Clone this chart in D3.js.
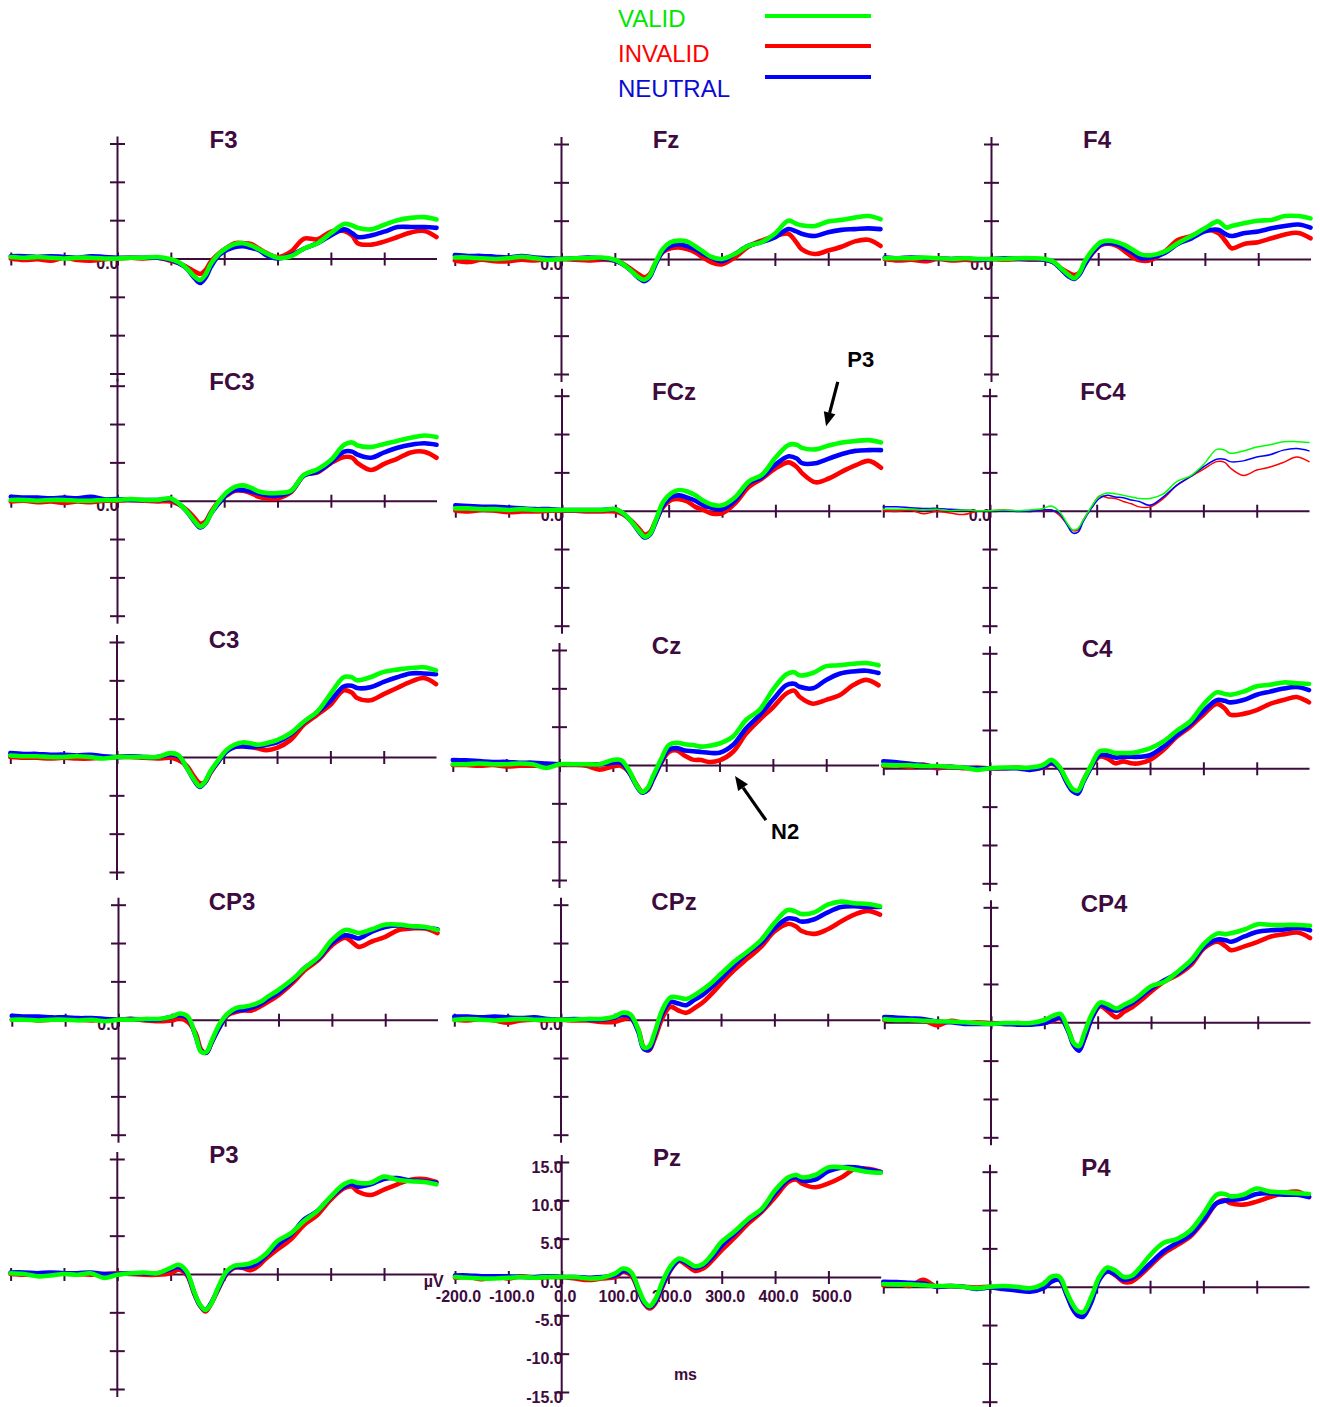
<!DOCTYPE html>
<html><head><meta charset="utf-8">
<script src="https://cdn.jsdelivr.net/npm/d3@7"></script>
<style>body{margin:0;background:#fff}svg{display:block}</style>
</head><body>
<svg id="chart" width="1320" height="1407"></svg>
<script>
// ---------- DATA ----------
const times = [-200,-175,-150,-125,-100,-75,-50,-25,0,25,50,75,100,115,130,145,155,165,175,190,205,220,235,250,265,280,300,325,350,375,400,425,440,450,475,500,525,550,575,598];
const channels = ["F3","Fz","F4","FC3","FCz","FC4","C3","Cz","C4","CP3","CPz","CP4","P3","Pz","P4"];
const conditions = ["VALID","INVALID","NEUTRAL"];
const xTickValues = [-200,-100,0,100,200,300,400,500];
const yTickValues = [-15,-10,-5,0,5,10,15];

const F3_VALID   = [0.2,0.1,0.2,0.1,0.0,0.1,0.1,0.0,0.0,0.1,0.1,0.2,-0.1,-0.5,-1.3,-2.4,-2.8,-2.1,-0.7,0.6,1.4,1.9,2.0,1.7,1.2,0.65,0.1,0.3,1.3,2.0,3.3,4.5,4.3,4.0,3.8,4.4,5.0,5.3,5.4,5.1];
const F3_NEUTRAL = [0.3,0.3,0.2,0.3,0.2,0.1,0.3,0.2,0.1,0.1,0.1,0.1,-0.2,-0.6,-1.3,-2.6,-3.2,-2.5,-1.1,0.4,1.1,1.5,1.6,1.4,1.1,0.4,0.0,0.4,1.3,2.0,3.0,3.8,3.3,2.8,3.0,3.5,4.1,4.1,4.1,4.0];
const F3_INVALID = [0.0,-0.2,-0.1,-0.3,0.1,-0.2,-0.3,-0.1,0.0,0.1,0.0,0.1,-0.3,-0.6,-1.1,-1.7,-2.0,-1.5,-0.4,0.65,1.4,2.0,2.0,1.9,1.3,0.7,0.2,0.9,2.6,2.5,3.5,3.6,3.0,2.0,1.8,2.2,2.8,3.4,3.6,2.8];

const Fz_VALID   = [0.2,0.2,0.1,0.0,0.1,0.3,0.1,-0.1,0.0,0.1,0.1,0.2,-0.1,-0.65,-1.5,-2.4,-2.7,-2.2,-0.65,1.3,2.2,2.4,2.3,1.7,1.0,0.3,0.0,0.65,1.7,2.2,3.3,5.0,4.6,4.4,4.3,4.9,5.1,5.4,5.6,5.2];
const Fz_NEUTRAL = [0.5,0.4,0.4,0.3,0.2,0.4,0.2,0.1,0.0,0.1,0.2,0.1,-0.2,-0.7,-1.5,-2.5,-2.9,-2.4,-0.9,1.0,1.7,1.9,1.7,1.3,0.7,0.2,-0.3,0.65,1.7,2.2,2.8,3.9,3.6,3.3,3.0,3.5,3.8,3.9,4.0,3.9];
const Fz_INVALID = [-0.2,-0.4,-0.1,-0.3,-0.3,-0.1,-0.2,0.0,0.0,-0.1,-0.2,-0.1,-0.2,-0.6,-1.3,-2.0,-2.4,-2.0,-0.7,0.9,1.4,1.5,1.3,0.9,0.2,-0.4,-0.7,0.2,1.6,2.4,3.0,3.3,2.2,1.3,0.65,1.1,1.6,2.3,2.5,1.7];

const F4_VALID   = [0.1,0.1,0.1,0.2,0.1,0.0,0.1,0.0,0.0,0.0,0.1,0.1,0.0,-0.3,-1.2,-2.1,-2.5,-1.8,-0.3,1.2,2.2,2.4,2.2,1.8,1.2,0.6,0.5,1.0,2.1,3.0,4.0,4.9,4.1,4.3,4.7,5.0,5.1,5.6,5.6,5.3];
const F4_NEUTRAL = [0.2,0.1,0.2,0.1,0.1,0.0,0.1,-0.1,0.0,0.1,0.0,0.0,-0.1,-0.4,-1.3,-2.3,-2.6,-2.0,-0.7,0.9,1.9,2.1,1.9,1.4,0.8,0.1,0.2,0.8,2.0,2.7,3.6,3.8,3.2,3.0,3.4,3.6,4.0,4.3,4.5,4.1];
const F4_INVALID = [0.0,-0.2,-0.1,-0.3,0.0,-0.2,-0.1,-0.2,0.0,-0.1,0.0,-0.1,-0.1,-0.4,-1.2,-1.8,-2.1,-1.8,-0.7,0.8,1.8,2.0,1.7,1.0,0.2,-0.2,-0.1,1.0,2.5,3.0,3.8,3.4,2.2,1.4,2.0,2.2,2.7,3.2,3.4,2.7];

const FC3_VALID   = [0.1,0.1,0.0,0.1,0.1,0.0,0.0,0.1,0.1,0.2,0.1,0.1,0.3,-0.35,-1.4,-2.7,-3.4,-3.0,-1.7,-0.1,1.1,1.8,2.0,1.7,1.2,1.0,1.0,1.3,3.4,4.1,5.3,7.3,7.6,7.2,7.0,7.4,7.8,8.2,8.5,8.3];
const FC3_NEUTRAL = [0.5,0.4,0.4,0.3,0.4,0.3,0.5,0.2,0.2,0.1,0.1,0.1,0.2,-0.4,-1.4,-2.8,-3.5,-3.0,-1.7,-0.35,0.8,1.4,1.4,1.2,0.95,0.7,0.65,1.2,3.3,3.8,5.0,6.4,6.4,6.0,5.6,6.3,6.9,7.3,7.5,7.3];
const FC3_INVALID = [-0.1,0.0,-0.2,-0.1,-0.3,-0.1,-0.2,0.0,0.0,0.1,0.0,-0.1,-0.1,-0.5,-1.2,-2.3,-3.0,-2.7,-1.5,-0.1,0.7,1.3,1.3,1.0,0.5,0.3,0.3,1.1,3.3,3.7,4.9,5.7,5.6,4.9,4.0,4.8,5.5,6.3,6.4,5.6];

const FCz_VALID   = [0.3,0.3,0.2,0.2,0.1,0.2,0.1,0.1,0.1,0.1,0.1,0.1,0.2,-0.35,-1.4,-2.7,-3.4,-3.0,-1.4,1.2,2.3,2.7,2.5,2.0,1.3,0.8,0.7,1.8,3.8,4.7,6.9,8.6,8.6,8.2,8.0,8.5,8.9,9.1,9.2,8.9];
const FCz_NEUTRAL = [0.7,0.6,0.5,0.5,0.4,0.3,0.2,0.2,0.1,0.1,0.1,0.1,0.2,-0.4,-1.4,-2.8,-3.5,-3.1,-1.6,0.7,1.8,2.0,1.7,1.3,0.7,0.4,0.2,1.4,3.6,4.4,6.0,7.1,6.8,6.2,6.2,6.8,7.4,7.8,7.9,7.9];
const FCz_INVALID = [0.0,-0.1,0.1,0.0,-0.2,-0.1,-0.1,0.0,0.0,0.0,-0.1,-0.1,-0.1,-0.5,-1.3,-2.4,-3.1,-2.8,-1.4,0.5,1.4,1.5,1.2,0.5,0.1,-0.35,-0.35,1.0,3.1,4.2,5.5,6.3,5.7,4.9,3.7,4.2,5.1,5.9,6.5,5.6];

const FC4_VALID   = [0.2,0.2,0.2,0.1,0.2,0.0,0.1,0.0,0.0,0.1,0.0,0.1,0.3,0.6,-0.1,-1.7,-2.5,-2.3,-1.2,0.5,1.9,2.3,2.2,2.0,1.8,1.6,1.6,2.2,3.8,4.5,6.0,8.0,7.9,7.5,7.8,8.3,8.6,9.0,9.0,8.9];
const FC4_NEUTRAL = [0.5,0.5,0.4,0.3,0.3,0.2,0.1,0.0,0.0,0.0,-0.1,-0.1,0.1,0.1,-0.35,-1.9,-2.9,-2.8,-1.4,0.3,1.6,2.0,1.8,1.7,1.4,1.2,0.7,1.8,3.3,4.4,5.7,6.7,6.7,6.4,6.5,7.0,7.3,7.9,8.1,7.8];
const FC4_INVALID = [0.0,-0.1,0.1,-0.4,-0.1,-0.3,-0.5,-0.1,0.0,0.1,0.0,-0.1,0.0,0.1,-0.6,-1.8,-2.6,-2.5,-1.2,0.4,1.9,1.7,1.6,1.2,0.9,0.5,0.5,1.6,3.3,4.4,5.4,6.4,6.3,5.6,4.6,5.3,5.7,6.3,7.0,6.4];

const C3_VALID   = [0.2,0.1,0.1,0.0,0.0,0.1,0.0,-0.2,0.0,0.0,0.0,0.0,0.5,0.25,-1.3,-3.0,-3.8,-3.2,-1.9,-0.4,0.9,1.6,1.9,1.8,1.6,1.8,2.2,3.1,4.6,5.9,8.2,10.4,10.4,10.0,10.4,11.1,11.4,11.6,11.7,11.3];
const C3_NEUTRAL = [0.5,0.4,0.4,0.3,0.3,0.2,0.3,0.1,0.0,0.1,0.0,0.0,0.3,0.1,-1.3,-3.1,-3.9,-3.3,-2.0,-0.6,0.7,1.3,1.4,1.3,1.4,1.6,1.9,2.9,4.5,5.8,7.3,9.2,9.3,9.0,9.1,9.8,10.4,10.9,10.9,10.8];
const C3_INVALID = [0.0,-0.1,-0.1,-0.2,-0.1,-0.2,-0.2,-0.1,0.0,0.0,-0.1,-0.2,-0.1,-0.4,-1.1,-2.6,-3.4,-3.3,-2.1,-0.6,0.8,1.3,1.4,1.3,1.1,0.9,1.2,2.2,4.2,5.5,6.8,8.7,8.4,7.7,7.4,8.2,9.0,9.8,10.3,9.5];

const Cz_VALID   = [0.1,0.1,0.2,0.1,0.1,0.2,0.1,-0.4,0.1,0.1,0.1,0.1,0.65,0.65,-0.65,-2.7,-3.5,-3.0,-1.5,0.7,2.6,2.9,2.7,2.6,2.4,2.5,2.8,3.7,5.9,7.2,9.8,11.8,12.1,11.7,12.0,12.9,13.0,13.2,13.3,13.0];
const Cz_NEUTRAL = [0.65,0.6,0.5,0.4,0.4,0.3,0.3,0.2,0.1,0.1,0.1,0.1,0.3,0.3,-0.9,-2.8,-3.6,-3.2,-1.9,0.3,2.0,2.2,1.9,1.8,1.7,1.6,1.6,2.6,4.8,6.5,8.5,10.4,10.6,10.2,10.0,11.1,11.9,12.2,12.3,12.0];
const Cz_INVALID = [0.0,0.0,-0.1,0.0,-0.2,-0.1,-0.1,0.0,0.0,0.0,-0.1,-0.6,-0.2,-0.1,-0.9,-2.6,-3.5,-3.3,-1.9,0.2,1.7,1.9,1.2,0.7,0.65,0.4,0.6,1.7,4.1,5.9,7.5,9.3,9.7,8.9,8.0,8.5,9.1,10.4,11.1,10.4];

const C4_VALID   = [0.45,0.4,0.4,0.3,0.3,0.2,0.1,-0.2,0.0,0.1,0.1,0.1,0.45,1.1,0.2,-1.7,-2.7,-2.9,-1.6,0.45,2.2,2.3,2.0,2.0,2.0,2.2,2.6,3.5,4.9,6.1,8.3,9.9,9.7,9.6,10.0,10.7,10.9,11.2,11.1,11.0];
const C4_NEUTRAL = [0.9,0.8,0.6,0.4,0.2,0.2,0.1,0.0,0.0,0.0,0.0,-0.2,0.2,0.7,0.0,-2.0,-3.0,-3.3,-1.8,0.2,1.7,1.7,1.4,1.5,1.5,1.5,1.7,2.8,4.3,5.7,7.4,8.9,8.8,8.6,8.9,9.6,10.0,10.4,10.6,10.2];
const C4_INVALID = [0.3,0.4,0.2,0.5,0.0,0.2,0.0,0.1,0.0,0.0,0.1,-0.1,0.1,0.6,0.0,-1.9,-2.9,-3.1,-1.6,0.2,1.5,1.3,0.65,0.9,0.65,0.65,1.1,2.4,4.1,5.4,7.0,8.4,7.8,7.0,7.1,7.6,8.4,8.9,9.3,8.6];

const CP3_VALID   = [0.0,0.0,-0.1,0.0,0.0,-0.1,0.0,-0.2,0.0,0.0,0.1,0.1,0.4,0.8,0.4,-2.2,-4.2,-4.2,-2.7,-0.5,0.8,1.5,1.7,1.9,2.3,3.0,3.9,5.2,6.8,8.2,10.4,11.7,11.5,11.3,11.8,12.4,12.4,12.2,12.1,11.7];
const CP3_NEUTRAL = [0.5,0.4,0.4,0.3,0.3,0.2,0.2,0.1,0.0,0.1,0.0,0.0,0.4,0.6,0.2,-2.2,-4.1,-4.3,-2.9,-0.9,0.7,1.2,1.3,1.6,2.0,2.7,3.5,5.0,6.8,8.0,10.0,11.0,10.8,10.6,11.5,12.1,12.3,12.1,12.0,11.8];
const CP3_INVALID = [0.0,0.1,-0.1,0.0,0.1,0.0,-0.1,0.0,0.0,0.1,-0.1,-0.2,-0.1,0.2,-0.3,-1.8,-3.9,-4.3,-2.9,-0.9,0.6,1.0,1.2,1.2,1.7,2.3,3.2,4.7,6.5,7.8,9.7,10.7,10.0,9.5,10.2,10.8,11.7,11.9,11.9,11.3];

const CPz_VALID   = [0.0,0.1,0.0,-0.1,0.0,0.1,0.0,0.0,0.0,0.0,0.1,0.1,0.4,0.9,0.7,-1.3,-3.6,-3.5,-1.8,1.3,2.9,2.9,2.7,3.2,3.9,4.7,6.0,7.6,8.9,10.4,12.6,14.3,14.1,13.8,14.0,15.0,15.4,15.2,15.1,14.8];
const CPz_NEUTRAL = [0.4,0.4,0.3,0.4,0.3,0.2,0.3,0.1,0.0,0.1,0.0,0.0,0.3,0.6,0.4,-1.6,-3.8,-3.9,-2.2,0.8,2.3,2.1,1.9,2.6,3.2,4.1,5.4,7.1,8.7,10.0,11.9,13.2,13.1,12.8,13.1,14.0,14.7,14.8,14.7,14.7];
const CPz_INVALID = [0.0,-0.1,0.1,-0.1,-0.4,-0.1,0.0,-0.1,0.0,-0.1,-0.1,-0.3,-0.3,0.0,0.2,-1.3,-3.6,-4.0,-2.6,0.2,1.7,1.2,0.9,1.5,2.2,3.2,4.7,6.5,8.0,9.5,11.5,12.5,12.2,11.6,11.2,11.8,12.8,13.7,14.2,13.7];

const CP4_VALID   = [0.4,0.3,0.3,0.2,0.1,0.1,0.0,-0.1,-0.2,-0.1,-0.1,-0.1,0.3,0.8,1.1,-1.0,-2.7,-3.1,-1.4,1.2,2.6,2.3,1.8,2.3,2.8,3.6,4.7,5.3,6.6,8.1,10.3,11.6,11.5,11.6,12.1,12.8,12.7,12.7,12.7,12.6];
const CP4_NEUTRAL = [0.7,0.6,0.5,0.4,0.1,0.0,-0.2,-0.2,-0.2,-0.2,-0.3,-0.3,-0.1,0.3,0.6,-1.2,-3.0,-3.7,-2.1,0.7,2.3,1.8,1.5,2.0,2.5,3.3,4.4,5.5,6.4,7.8,9.9,10.8,10.7,10.5,11.2,11.8,12.0,12.1,12.3,12.0];
const CP4_INVALID = [0.3,0.5,0.3,0.2,-0.4,0.2,-0.1,0.0,-0.1,-0.2,-0.1,-0.2,-0.1,0.2,0.5,-1.0,-2.9,-3.6,-2.2,0.7,2.1,1.4,0.65,1.4,2.0,2.8,4.0,5.3,6.2,7.5,9.7,10.5,9.9,9.4,9.9,10.5,11.2,11.5,11.7,11.0];

const P3_VALID   = [0.1,0.0,-0.3,-0.2,0.0,-0.1,0.1,-0.5,-0.1,0.1,0.2,0.1,0.8,1.2,0.35,-2.5,-4.0,-4.7,-4.0,-1.6,0.35,1.1,1.2,1.4,1.9,2.7,4.3,5.3,6.9,8.2,10.1,11.7,12.1,11.9,11.9,12.7,12.3,12.1,12.0,11.7];
const P3_NEUTRAL = [0.2,0.2,0.1,0.2,0.1,0.1,0.2,0.0,0.0,0.1,0.1,0.1,0.6,0.9,0.1,-2.6,-4.1,-4.7,-3.9,-1.8,0.1,0.9,0.9,1.0,1.5,2.5,3.8,5.1,7.1,8.2,10.0,11.4,11.7,11.4,11.7,12.4,12.5,12.2,12.1,11.9];
const P3_INVALID = [0.0,-0.1,0.0,-0.1,0.1,0.0,-0.1,0.0,0.1,0.0,-0.1,-0.1,0.1,0.55,-0.1,-2.7,-4.1,-4.9,-4.0,-1.9,0.0,0.8,0.8,0.5,1.1,2.1,3.2,4.5,6.4,7.7,9.7,11.2,11.4,10.8,10.3,11.0,11.7,12.3,12.4,12.0];

const Pz_VALID   = [0.0,-0.1,-0.2,-0.2,-0.1,0.0,-0.1,0.0,0.0,0.0,-0.2,-0.1,0.45,1.1,0.65,-1.7,-3.2,-3.8,-3.0,-0.45,1.5,2.4,2.0,1.4,1.7,2.8,4.6,6.0,7.6,8.9,11.3,13.0,13.3,13.0,13.3,14.3,14.3,14.0,13.7,13.6];
const Pz_NEUTRAL = [0.2,0.2,0.1,0.1,0.1,0.0,0.0,0.1,0.0,0.0,-0.1,0.0,0.2,0.8,0.45,-1.9,-3.4,-3.9,-3.3,-0.9,1.1,2.2,1.8,1.2,1.5,2.4,4.1,5.7,7.4,8.7,10.9,12.7,13.0,12.6,12.7,13.8,14.3,14.3,14.0,13.7];
const Pz_INVALID = [-0.1,0.0,-0.3,0.1,-0.2,0.1,-0.1,0.0,0.0,-0.2,-0.4,-0.2,0.0,0.65,0.2,-2.0,-3.5,-4.1,-3.5,-1.1,1.0,2.1,1.5,0.8,1.1,2.0,3.5,5.2,7.0,8.5,10.4,12.4,12.7,12.2,11.7,12.2,13.0,14.1,14.1,13.7];

const P4_VALID   = [0.35,0.3,0.3,0.2,0.1,0.1,0.0,-0.2,0.0,0.1,0.0,-0.2,0.35,1.3,1.3,-0.9,-2.3,-3.2,-3.3,-1.3,1.3,2.5,2.1,1.3,1.4,2.4,4.1,5.7,6.2,7.3,9.5,12.0,12.1,11.8,12.0,12.8,12.4,12.3,12.2,12.1];
const P4_NEUTRAL = [0.65,0.6,0.5,0.4,0.0,0.1,0.0,-0.3,-0.1,-0.3,-0.5,-0.65,-0.2,0.65,0.9,-1.3,-2.9,-3.8,-3.9,-2.0,0.9,2.0,1.6,0.9,1.1,1.7,3.0,4.6,5.7,6.7,8.7,10.9,11.2,11.3,11.5,12.1,12.2,12.0,12.0,11.7];
const P4_INVALID = [0.2,0.4,0.1,0.9,0.0,0.1,0.0,-0.1,0.0,-0.1,-0.3,-0.4,0.0,0.9,0.95,-1.2,-2.8,-3.7,-3.7,-1.7,1.0,2.0,1.5,0.65,0.65,1.4,2.7,4.3,5.4,6.5,8.5,10.9,11.3,10.9,10.7,11.1,11.7,12.2,12.4,11.7];

// annotations in data units (ms, µV) of their panel
const annotations = [
  {panel:"FCz", label:"P3", tail:[517, 16.8], tip:[495, 11.0], text:[560, 18.7]},
  {panel:"Cz",  label:"N2", tail:[387, -7.2], tip:[329, -1.45], text:[423, -9.65]}
];

// ---------- LAYOUT / STYLE ----------
const series = {
  F3:{VALID:F3_VALID,INVALID:F3_INVALID,NEUTRAL:F3_NEUTRAL},
  Fz:{VALID:Fz_VALID,INVALID:Fz_INVALID,NEUTRAL:Fz_NEUTRAL},
  F4:{VALID:F4_VALID,INVALID:F4_INVALID,NEUTRAL:F4_NEUTRAL},
  FC3:{VALID:FC3_VALID,INVALID:FC3_INVALID,NEUTRAL:FC3_NEUTRAL},
  FCz:{VALID:FCz_VALID,INVALID:FCz_INVALID,NEUTRAL:FCz_NEUTRAL},
  FC4:{VALID:FC4_VALID,INVALID:FC4_INVALID,NEUTRAL:FC4_NEUTRAL},
  C3:{VALID:C3_VALID,INVALID:C3_INVALID,NEUTRAL:C3_NEUTRAL},
  Cz:{VALID:Cz_VALID,INVALID:Cz_INVALID,NEUTRAL:Cz_NEUTRAL},
  C4:{VALID:C4_VALID,INVALID:C4_INVALID,NEUTRAL:C4_NEUTRAL},
  CP3:{VALID:CP3_VALID,INVALID:CP3_INVALID,NEUTRAL:CP3_NEUTRAL},
  CPz:{VALID:CPz_VALID,INVALID:CPz_INVALID,NEUTRAL:CPz_NEUTRAL},
  CP4:{VALID:CP4_VALID,INVALID:CP4_INVALID,NEUTRAL:CP4_NEUTRAL},
  P3:{VALID:P3_VALID,INVALID:P3_INVALID,NEUTRAL:P3_NEUTRAL},
  Pz:{VALID:Pz_VALID,INVALID:Pz_INVALID,NEUTRAL:Pz_NEUTRAL},
  P4:{VALID:P4_VALID,INVALID:P4_INVALID,NEUTRAL:P4_NEUTRAL}
};
// ox: x of time 0 (y axis); zy: y of 0 µV; tx/ty: title position
const layout = {
  F3:{ox:117.5,zy:258.5,tx:223.5,ty:148,zero:true},
  Fz:{ox:561.5,zy:259,tx:666,ty:148,zero:true},
  F4:{ox:991.5,zy:259,tx:1097,ty:148,zero:true},
  FC3:{ox:117.5,zy:500.7,tx:232,ty:390,zero:true},
  FCz:{ox:562,zy:510.7,tx:674,ty:400,zero:true},
  FC4:{ox:990,zy:510.7,tx:1103,ty:400,zero:true,thin:true},
  C3:{ox:117,zy:757,tx:224,ty:648},
  Cz:{ox:559.5,zy:765,tx:666.5,ty:654},
  C4:{ox:990,zy:768.3,tx:1097,ty:657},
  CP3:{ox:118.5,zy:1019.7,tx:232,ty:910,zero:true},
  CPz:{ox:561,zy:1019.7,tx:674,ty:910,zero:true},
  CP4:{ox:991,zy:1022.3,tx:1104,ty:912},
  P3:{ox:117.3,zy:1274,tx:224,ty:1163},
  Pz:{ox:561.7,zy:1277,tx:667,ty:1166,full:true},
  P4:{ox:990,zy:1286.7,tx:1096,ty:1176}
};
const colors = {VALID:"#00ff00", INVALID:"#ff0000", NEUTRAL:"#0000ff"};
const legendText = {VALID:"#00e600", INVALID:"#ff0000", NEUTRAL:"#0a0ad2"};
const AX = "#3d0b3d";
const FONT = "'Liberation Sans', Arial, Helvetica, sans-serif";

const svg = d3.select("#chart");
const fmt = d => d.toFixed(1);

const panels = {};
channels.forEach(ch => {
  const p = layout[ch];
  const x = d3.scaleLinear().domain([-200, 598]).range([p.ox - 106.7, p.ox + 319]);
  const y = d3.scaleLinear().domain([-15, 15]).range([p.zy + 115, p.zy - 115]);
  panels[ch] = {x, y};
  const g = svg.append("g");

  // x axis (zero line)
  const xa = g.append("g").attr("transform", `translate(0,${p.zy})`)
    .call(d3.axisBottom(x).tickValues(xTickValues).tickSize(7).tickSizeOuter(0)
      .tickFormat(p.full ? fmt : ""));
  xa.select(".domain").attr("stroke", AX).attr("stroke-width", 2);
  xa.selectAll(".tick line").attr("stroke", AX).attr("stroke-width", 2).attr("y1", -6).attr("y2", 7);
  xa.selectAll(".tick text").attr("fill", AX).attr("font-family", FONT).attr("font-size", 16)
    .attr("font-weight", "bold").attr("y", 25).attr("dy", null).attr("dx", 3);

  // y axis
  const ya = g.append("g").attr("transform", `translate(${p.ox},0)`)
    .call(d3.axisLeft(y).tickValues(yTickValues).tickSize(7.5)
      .tickFormat(d => p.full ? fmt(d) : (p.zero && d === 0 ? "0.0" : "")));
  ya.select(".domain").remove();
  ya.selectAll(".tick line").attr("stroke", AX).attr("stroke-width", 2).attr("x1", 7.5);
  ya.selectAll(".tick text").attr("fill", AX).attr("font-family", FONT).attr("font-size", 16)
    .attr("font-weight", "bold").attr("x", 1).attr("dy", null).attr("y", 10);
  g.append("line").attr("x1", p.ox).attr("x2", p.ox)
    .attr("y1", y(15) - 7).attr("y2", y(-15) + 8)
    .attr("stroke", AX).attr("stroke-width", 2);

  if (p.full) {
    g.append("text").attr("x", p.ox - 118).attr("y", p.zy + 10).attr("text-anchor", "end")
      .attr("font-family", FONT).attr("font-size", 16).attr("font-weight", "bold").attr("fill", AX).text("µV");
    g.append("text").attr("x", x(232)).attr("y", p.zy + 103).attr("text-anchor", "middle")
      .attr("font-family", FONT).attr("font-size", 16).attr("font-weight", "bold").attr("fill", AX).text("ms");
  }

  // title
  g.append("text").attr("x", p.tx).attr("y", p.ty).attr("text-anchor", "middle")
    .attr("font-family", FONT).attr("font-size", 24).attr("font-weight", "bold").attr("fill", AX).text(ch);

  // traces
  const line = d3.line().x((d, i) => x(times[i])).y(d => y(d)).curve(d3.curveCatmullRom.alpha(0.5));
  ["INVALID", "NEUTRAL", "VALID"].forEach(c => {
    g.append("path").attr("d", line(series[ch][c])).attr("fill", "none")
      .attr("stroke", colors[c]).attr("stroke-width", p.thin ? 1.5 : 4.6)
      .attr("stroke-linejoin", "round").attr("stroke-linecap", "round");
  });
});

// legend
const legendRows = [{c:"VALID", ty:27, ly:16}, {c:"INVALID", ty:62, ly:46}, {c:"NEUTRAL", ty:97, ly:77}];
legendRows.forEach(r => {
  svg.append("text").attr("x", 618).attr("y", r.ty).attr("font-family", FONT).attr("font-size", 24)
    .attr("fill", legendText[r.c]).text(r.c);
  svg.append("line").attr("x1", 765).attr("x2", 871).attr("y1", r.ly).attr("y2", r.ly)
    .attr("stroke", colors[r.c]).attr("stroke-width", 4);
});

// annotations
annotations.forEach(a => {
  const {x, y} = panels[a.panel];
  const x1 = x(a.tail[0]), y1 = y(a.tail[1]), x2 = x(a.tip[0]), y2 = y(a.tip[1]);
  const ang = Math.atan2(y2 - y1, x2 - x1);
  const L = 14, W = 6;
  const bx = x2 - L * Math.cos(ang), by = y2 - L * Math.sin(ang);
  svg.append("line").attr("x1", x1).attr("y1", y1).attr("x2", bx).attr("y2", by)
    .attr("stroke", "#000").attr("stroke-width", 3.2);
  const px = -Math.sin(ang) * W, py = Math.cos(ang) * W;
  svg.append("polygon").attr("points", `${x2},${y2} ${bx + px},${by + py} ${bx - px},${by - py}`).attr("fill", "#000");
  svg.append("text").attr("x", x(a.text[0])).attr("y", y(a.text[1])).attr("text-anchor", "middle")
    .attr("font-family", FONT).attr("font-size", 22).attr("font-weight", "bold").attr("fill", "#000").text(a.label);
});
</script>
</body></html>
